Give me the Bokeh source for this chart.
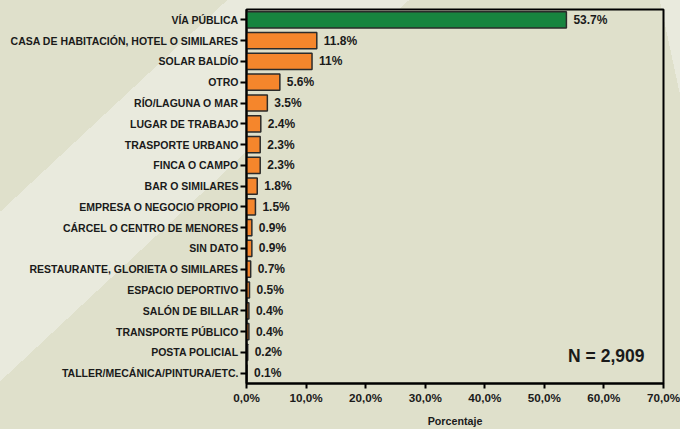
from bokeh.plotting import figure
from bokeh.models import ColumnDataSource, FactorRange, Range1d, Label, FixedTicker
from bokeh.core.properties import value
from bokeh.embed import file_html
from bokeh.resources import INLINE

categories = [
    "VÍA PÚBLICA",
    "CASA DE HABITACIÓN, HOTEL O SIMILARES",
    "SOLAR BALDÍO",
    "OTRO",
    "RÍO/LAGUNA O MAR",
    "LUGAR DE TRABAJO",
    "TRASPORTE URBANO",
    "FINCA O CAMPO",
    "BAR O SIMILARES",
    "EMPRESA O NEGOCIO PROPIO",
    "CÁRCEL O CENTRO DE MENORES",
    "SIN DATO",
    "RESTAURANTE, GLORIETA O SIMILARES",
    "ESPACIO DEPORTIVO",
    "SALÓN DE BILLAR",
    "TRANSPORTE PÚBLICO",
    "POSTA POLICIAL",
    "TALLER/MECÁNICA/PINTURA/ETC.",
]
percentages = [53.7, 11.8, 11, 5.6, 3.5, 2.4, 2.3, 2.3, 1.8, 1.5, 0.9, 0.9, 0.7, 0.5, 0.4, 0.4, 0.2, 0.1]
x_ticks = [0, 10, 20, 30, 40, 50, 60, 70]
x_tick_labels = ["0,0%", "10,0%", "20,0%", "30,0%", "40,0%", "50,0%", "60,0%", "70,0%"]
n_text = "N = 2,909"
x_title = "Porcentaje"

FONT = "Liberation Sans"
BG = "#dfe0cb"
LIGHT = "#e9eadd"
GREEN = "#17843f"
ORANGE = "#f5862c"

colors = [GREEN if i == 0 else ORANGE for i in range(len(categories))]
labels = [f"{v:g}%" for v in percentages]

src = ColumnDataSource(dict(cat=categories, val=percentages, color=colors, label=labels))

# decorative lighter bands of the page background (behind the transparent border area)
band_left = ("linear-gradient(137deg, transparent 155px, {lt} 155px, {lt} 279px, "
             "transparent 279px)").format(lt=LIGHT)
band_right = "linear-gradient(77.9deg, transparent 735px, {lt} 735px)".format(lt=LIGHT)

p = figure(
    width=680, height=429,
    y_range=FactorRange(*reversed(categories), range_padding=0),
    x_range=Range1d(0, 70),
    output_backend="svg", toolbar_location=None,
    min_border_left=246, min_border_right=17, min_border_top=9, min_border_bottom=44,
    styles={"background-color": BG, "background-image": band_left + ", " + band_right},
)
p.background_fill_color = BG
p.border_fill_color = BG
p.border_fill_alpha = 0
p.outline_line_color = "black"
p.outline_line_width = 2
p.xgrid.visible = False
p.ygrid.visible = False

p.hbar(y="cat", right="val", left=0, height=0.78, source=src,
       fill_color="color", line_color="#2b2b2b", line_width=1.5)

p.text(x="val", y="cat", text="label", source=src, x_offset=7,
       text_baseline="middle", text_align="left",
       text_font=value(FONT), text_font_size="12px", text_font_style="bold",
       text_color="#1a1a1a")

p.add_layout(Label(x=60.4, y=1.34, text=n_text, text_align="center", text_baseline="middle",
                   text_font=FONT, text_font_size="17.5px", text_font_style="bold",
                   text_color="#1a1a1a"))

p.yaxis.axis_line_width = 2
p.yaxis.axis_line_color = "black"
p.yaxis.major_tick_line_width = 2
p.yaxis.major_tick_out = 6
p.yaxis.major_tick_in = 0
p.yaxis.major_label_standoff = 2
p.yaxis.major_label_text_font = FONT
p.yaxis.major_label_text_font_size = "10.5px"
p.yaxis.major_label_text_font_style = "bold"
p.yaxis.major_label_text_color = "#1a1a1a"

p.xaxis.ticker = FixedTicker(ticks=x_ticks)
p.xaxis.major_label_overrides = {t: l for t, l in zip(x_ticks, x_tick_labels)}
p.xaxis.minor_tick_line_color = None
p.xaxis.axis_line_width = 2
p.xaxis.major_tick_line_width = 2
p.xaxis.major_tick_out = 5
p.xaxis.major_tick_in = 0
p.xaxis.major_label_standoff = 2
p.xaxis.major_label_text_font = FONT
p.xaxis.major_label_text_font_size = "11.7px"
p.xaxis.major_label_text_font_style = "bold"
p.xaxis.major_label_text_color = "#1a1a1a"
p.xaxis.axis_label = x_title
p.xaxis.axis_label_text_font = FONT
p.xaxis.axis_label_text_font_size = "10.7px"
p.xaxis.axis_label_text_font_style = "bold"
p.xaxis.axis_label_text_color = "#1a1a1a"
p.xaxis.axis_label_standoff = 8

html = file_html(p, INLINE)
html = html.replace("<body>", '<body style="background-color:%s;">' % BG, 1)
open("out.html", "w").write(html)
